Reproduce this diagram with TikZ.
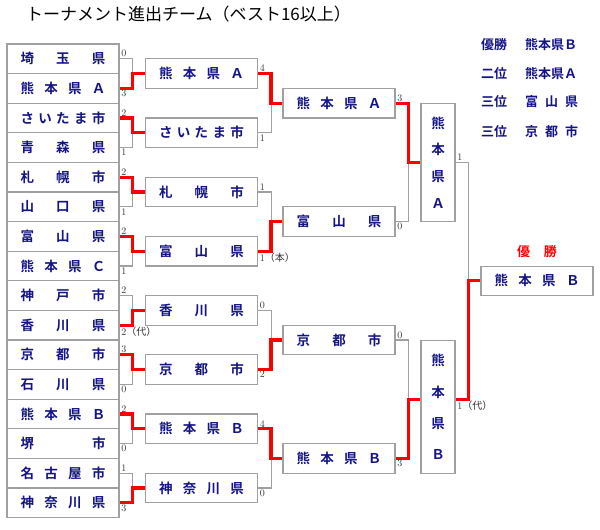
\documentclass[tikz,border=0pt]{standalone}
\usepackage{fontspec}
\usepackage{tikz}
\usetikzlibrary{positioning}
\newfontfamily\jp{Noto Sans CJK JP}[BoldFont={Noto Sans CJK JP Bold}]
\definecolor{teamblue}{RGB}{20,20,135}
\definecolor{boxgray}{RGB}{160,160,160}
\newcommand{\nm}[1]{\makebox[85pt]{#1}}

\begin{document}
\begin{tikzpicture}[x=1pt,y=-1pt,node distance=29pt,on grid,
        team/.style={draw=boxgray,line width=1.1pt,minimum width=112pt,minimum height=29.6pt,inner sep=0pt,text=teamblue,font=\jp\bfseries\fontsize{13.5}{13.5}\selectfont},
        tall/.style={team,minimum width=34pt,align=center},
        score/.style={inner sep=1.5pt,text=black!80,font=\fontsize{10}{10}\selectfont},
        win/.style={draw=red,line width=3.2pt},
        lose/.style={draw=boxgray,line width=1.1pt},
        legend/.style={anchor=west,inner sep=0pt,text=teamblue,font=\jp\bfseries\fontsize{13}{13}\selectfont}]
    \useasboundingbox (0,0) rectangle (600,530);
    \node[anchor=west,inner sep=0pt,font=\jp\fontsize{17}{17}\selectfont] (title) at (26,14) {トーナメント進出チーム（ベスト16以上）};

    % first round
    \node[team] (t_1) at (63,58.8) {\nm{埼\hfill 玉\hfill 県}};
    \node[team] (t_2) at (63,88.4) {\nm{熊\hfill 本\hfill 県\hfill Ａ}};
    \node[team] (t_3) at (63,118.0) {\nm{さ\hfill い\hfill た\hfill ま\hfill 市}};
    \node[team] (t_4) at (63,147.6) {\nm{青\hfill 森\hfill 県}};
    \node[team] (t_5) at (63,177.2) {\nm{札\hfill 幌\hfill 市}};
    \node[team] (t_6) at (63,206.8) {\nm{山\hfill 口\hfill 県}};
    \node[team] (t_7) at (63,236.4) {\nm{富\hfill 山\hfill 県}};
    \node[team] (t_8) at (63,266.0) {\nm{熊\hfill 本\hfill 県\hfill Ｃ}};
    \node[team] (t_9) at (63,295.6) {\nm{神\hfill 戸\hfill 市}};
    \node[team] (t_10) at (63,325.2) {\nm{香\hfill 川\hfill 県}};
    \node[team] (t_11) at (63,354.8) {\nm{京\hfill 都\hfill 市}};
    \node[team] (t_12) at (63,384.4) {\nm{石\hfill 川\hfill 県}};
    \node[team] (t_13) at (63,414.0) {\nm{熊\hfill 本\hfill 県\hfill Ｂ}};
    \node[team] (t_14) at (63,443.6) {\nm{堺\hfill 市}};
    \node[team] (t_15) at (63,473.2) {\nm{名\hfill 古\hfill 屋\hfill 市}};
    \node[team] (t_16) at (63,502.8) {\nm{神\hfill 奈\hfill 川\hfill 県}};

    % second round
    \node[team] (r2_1) at (201.5,73.6) {\nm{熊\hfill 本\hfill 県\hfill Ａ}};
    \node[team] (r2_2) at (201.5,132.8) {\nm{さ\hfill い\hfill た\hfill ま\hfill 市}};
    \node[team] (r2_3) at (201.5,192.0) {\nm{札\hfill 幌\hfill 市}};
    \node[team] (r2_4) at (201.5,251.2) {\nm{富\hfill 山\hfill 県}};
    \node[team] (r2_5) at (201.5,310.4) {\nm{香\hfill 川\hfill 県}};
    \node[team] (r2_6) at (201.5,369.6) {\nm{京\hfill 都\hfill 市}};
    \node[team] (r2_7) at (201.5,428.8) {\nm{熊\hfill 本\hfill 県\hfill Ｂ}};
    \node[team] (r2_8) at (201.5,488.0) {\nm{神\hfill 奈\hfill 川\hfill 県}};

    % quarter finals
    \node[team] (r3_1) at (339,103.2) {\nm{熊\hfill 本\hfill 県\hfill Ａ}};
    \node[team] (r3_2) at (339,221.6) {\nm{富\hfill 山\hfill 県}};
    \node[team] (r3_3) at (339,340.0) {\nm{京\hfill 都\hfill 市}};
    \node[team] (r3_4) at (339,458.4) {\nm{熊\hfill 本\hfill 県\hfill Ｂ}};

    % semi finals and final
    \node[tall,minimum height=118.4pt,font=\jp\bfseries\fontsize{13.5}{26.7}\selectfont] (r4_1) at (438,162.4) {熊\\本\\県\\Ａ};
    \node[tall,minimum height=133.2pt,font=\jp\bfseries\fontsize{13.5}{31.3}\selectfont] (r4_2) at (438,407.2) {熊\\本\\県\\Ｂ};
    \coordinate (m_b) at (438,399.2);
    \node[team,minimum height=29.5pt] (fin) at (537,280.8) {\nm{熊\hfill 本\hfill 県\hfill Ｂ}};
    \node[above=29pt of fin,inner sep=0pt,text=red,font=\jp\bfseries\fontsize{13}{13}\selectfont] (champ) {\makebox[40pt]{優\hfill 勝}};

    % losers
    \draw[lose] (t_1.east) -- ++(13,0) |- (r2_1.west);
    \draw[lose] (t_4.east) -- ++(13,0) |- (r2_2.west);
    \draw[lose] (t_6.east) -- ++(13,0) |- (r2_3.west);
    \draw[lose] (t_8.east) -- ++(13,0) |- (r2_4.west);
    \draw[lose] (t_9.east) -- ++(13,0) |- (r2_5.west);
    \draw[lose] (t_12.east) -- ++(13,0) |- (r2_6.west);
    \draw[lose] (t_14.east) -- ++(13,0) |- (r2_7.west);
    \draw[lose] (t_15.east) -- ++(13,0) |- (r2_8.west);
    \draw[lose] (r2_2.east) -- ++(13,0) |- (r3_1.west);
    \draw[lose] (r2_3.east) -- ++(13,0) |- (r3_2.west);
    \draw[lose] (r2_5.east) -- ++(13,0) |- (r3_3.west);
    \draw[lose] (r2_8.east) -- ++(13,0) |- (r3_4.west);
    \draw[lose] (r3_2.east) -- ++(13,0) |- (r4_1.west);
    \draw[lose] (r3_3.east) -- ++(13,0) |- (r4_2.west |- m_b);
    \draw[lose] (r4_1.east) -- ++(13,0) |- (fin.west);

    % winners
    \draw[win] (t_2.east) -- ++(13,0) |- (r2_1.west);
    \draw[win] (t_3.east) -- ++(13,0) |- (r2_2.west);
    \draw[win] (t_5.east) -- ++(13,0) |- (r2_3.west);
    \draw[win] (t_7.east) -- ++(13,0) |- (r2_4.west);
    \draw[win] (t_10.east) -- ++(13,0) |- (r2_5.west);
    \draw[win] (t_11.east) -- ++(13,0) |- (r2_6.west);
    \draw[win] (t_13.east) -- ++(13,0) |- (r2_7.west);
    \draw[win] (t_16.east) -- ++(13,0) |- (r2_8.west);
    \draw[win] (r2_1.east) -- ++(13,0) |- (r3_1.west);
    \draw[win] (r2_4.east) -- ++(13,0) |- (r3_2.west);
    \draw[win] (r2_6.east) -- ++(13,0) |- (r3_3.west);
    \draw[win] (r2_7.east) -- ++(13,0) |- (r3_4.west);
    \draw[win] (r3_1.east) -- ++(13,0) |- (r4_1.west);
    \draw[win] (r3_4.east) -- ++(13,0) |- (r4_2.west |- m_b);
    \draw[win] (r4_2.east |- m_b) -- ++(13,0) |- (fin.west);

    % scores
    \node[score,above right] (s_1) at (t_1.east) {0};
    \node[score,below right] (s_2) at (t_2.east) {3};
    \node[score,above right] (s_3) at (t_3.east) {2};
    \node[score,below right] (s_4) at (t_4.east) {1};
    \node[score,above right] (s_5) at (t_5.east) {2};
    \node[score,below right] (s_6) at (t_6.east) {1};
    \node[score,above right] (s_7) at (t_7.east) {2};
    \node[score,below right] (s_8) at (t_8.east) {1};
    \node[score,above right] (s_9) at (t_9.east) {2};
    \node[score,below right] (s_10) at (t_10.east) {2{\jp（代）}};
    \node[score,above right] (s_11) at (t_11.east) {3};
    \node[score,below right] (s_12) at (t_12.east) {0};
    \node[score,above right] (s_13) at (t_13.east) {2};
    \node[score,below right] (s_14) at (t_14.east) {0};
    \node[score,above right] (s_15) at (t_15.east) {1};
    \node[score,below right] (s_16) at (t_16.east) {3};
    \node[score,above right] (s_21) at (r2_1.east) {4};
    \node[score,below right] (s_22) at (r2_2.east) {1};
    \node[score,above right] (s_23) at (r2_3.east) {1};
    \node[score,below right] (s_24) at (r2_4.east) {1{\jp（本）}};
    \node[score,above right] (s_25) at (r2_5.east) {0};
    \node[score,below right] (s_26) at (r2_6.east) {2};
    \node[score,above right] (s_27) at (r2_7.east) {4};
    \node[score,below right] (s_28) at (r2_8.east) {0};
    \node[score,above right] (s_31) at (r3_1.east) {3};
    \node[score,below right] (s_32) at (r3_2.east) {0};
    \node[score,above right] (s_33) at (r3_3.east) {0};
    \node[score,below right] (s_34) at (r3_4.east) {3};
    \node[score,above right] (s_41) at (r4_1.east) {1};
    \node[score,below right] (s_42) at (r4_2.east |- m_b) {1{\jp（代）}};

    % results
    \node[legend] (w_1) at (481,44.3) {優勝};
    \node[legend] (n_1) at (525,44.3) {熊本県Ｂ};
    \node[legend] (w_2) at (481,73.3) {二位};
    \node[legend] (n_2) at (525,73.3) {熊本県Ａ};
    \node[legend] (w_3) at (481,101.7) {三位};
    \node[legend] (n_3) at (525,101.7) {\makebox[53pt]{富\hfill 山\hfill 県}};
    \node[legend] (w_4) at (481,131.7) {三位};
    \node[legend] (n_4) at (525,131.7) {\makebox[53pt]{京\hfill 都\hfill 市}};
\end{tikzpicture}
\end{document}
